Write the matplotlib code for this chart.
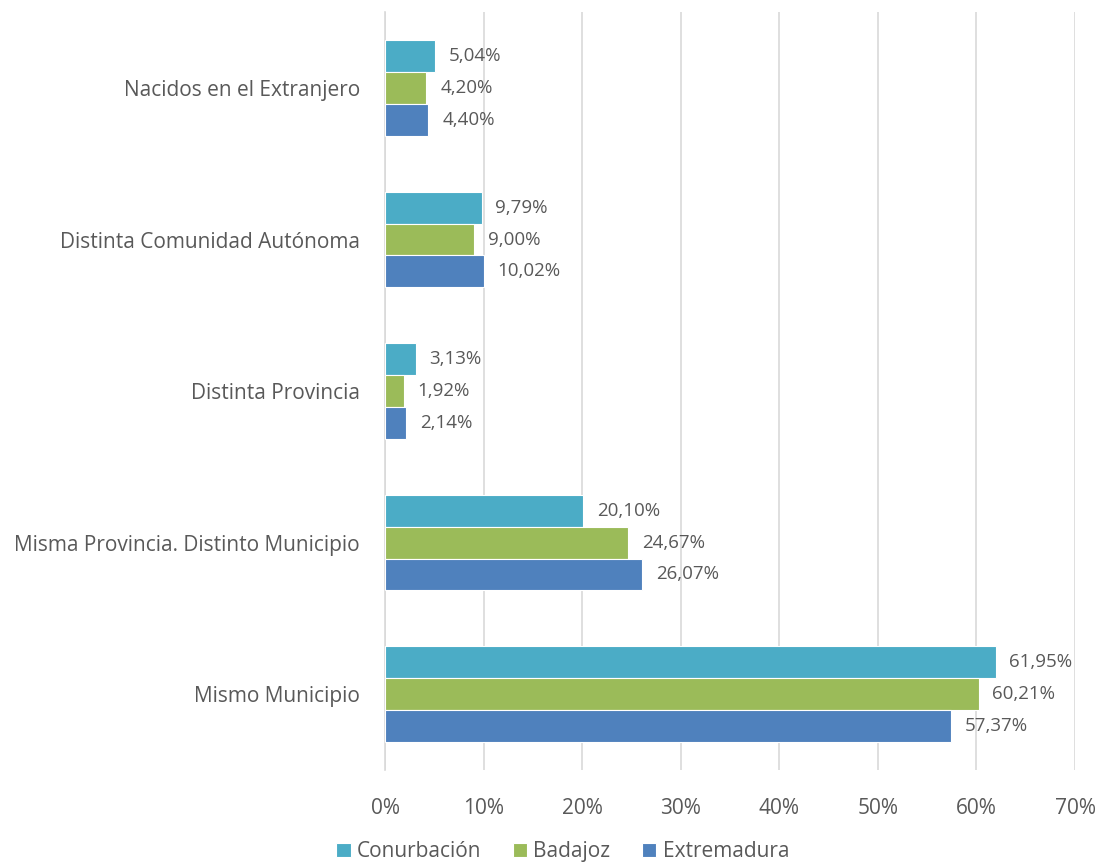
import matplotlib
matplotlib.use("Agg")
import matplotlib.pyplot as plt
import numpy as np

plt.rcParams['font.family'] = ['Open Sans', 'DejaVu Sans']

categorias = ["Mismo Municipio", "Misma Provincia. Distinto Municipio",
              "Distinta Provincia", "Distinta Comunidad Autónoma",
              "Nacidos en el Extranjero"]
series = ["Conurbación", "Badajoz", "Extremadura"]
conurbacion = [61.95, 20.10, 3.13, 9.79, 5.04]
badajoz = [60.21, 24.67, 1.92, 9.00, 4.20]
extremadura = [57.37, 26.07, 2.14, 10.02, 4.40]
colores = ["#4BACC6", "#9BBB59", "#4F81BD"]

gris = "#595959"
fig = plt.figure(figsize=(11.01, 8.68), dpi=100)
ax = fig.add_axes([0.3497, 0.1129, 0.6267, 0.873])

y = np.arange(len(categorias))
h = 0.21
offsets = [h, 0, -h]
for vals, nombre, col, off in zip([conurbacion, badajoz, extremadura], series, colores, offsets):
    bars = ax.barh(y + off, vals, height=h, color=col, edgecolor="white", linewidth=0.8, label=nombre, zorder=3)
    for b, v in zip(bars, vals):
        ax.text(v + 1.4, b.get_y() + b.get_height() / 2, "{:.2f}%".format(v).replace(".", ","),
                va="center", ha="left", fontsize=13.5, color=gris)

ax.set_xlim(0, 70)
ax.set_ylim(-0.5, 4.5)
ax.set_xticks(range(0, 71, 10))
ax.set_xticklabels(["{}%".format(t) for t in range(0, 71, 10)])
ax.set_yticks(y)
ax.set_yticklabels(categorias)
ax.tick_params(axis="both", length=0, colors=gris, labelsize=15)
ax.tick_params(axis="x", pad=20)
ax.tick_params(axis="y", pad=18)
ax.grid(axis="x", color="#D9D9D9", linewidth=1.2, zorder=0)
for s in ["top", "right", "bottom"]:
    ax.spines[s].set_visible(False)
ax.spines["left"].set_color("#D9D9D9")
ax.spines["left"].set_linewidth(1.2)

fig.legend(loc="lower center", bbox_to_anchor=(0.511, -0.015), ncol=3, frameon=False,
           fontsize=15, labelcolor=gris, handlelength=0.7, handleheight=0.7,
           handletextpad=0.3, columnspacing=1.5)

fig.savefig("out.png", dpi=100)
